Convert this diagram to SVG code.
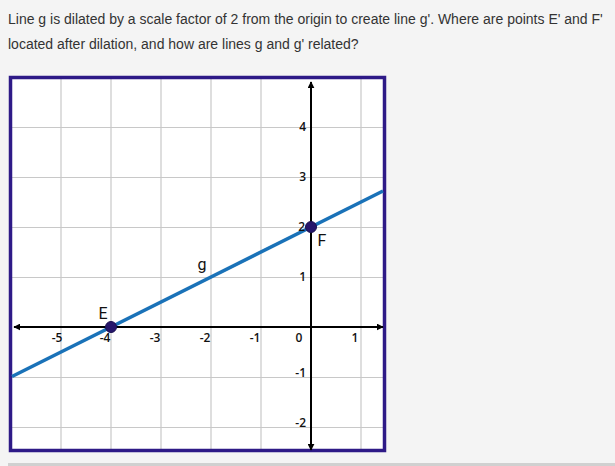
<svg xmlns="http://www.w3.org/2000/svg" width="615" height="466" viewBox="0 0 615 466">
<defs>
<style>
.q{font-family:"Liberation Sans",Arial,sans-serif;font-size:14px;fill:#333}
.grid line{stroke:#c8c8c8;stroke-width:1.2}
.axis{stroke:#000;stroke-width:2;fill:none}
.t{font-family:"Open Sans","Noto Sans",sans-serif;font-size:12px;fill:#111;font-weight:600}
.lbl{font-family:Roboto,"Open Sans",sans-serif;font-size:16px;fill:#111}
.pt{fill:#26166b;stroke:#1a1050;stroke-width:1}
</style>
<marker id="ah" viewBox="0 0 10 10" refX="9" refY="5" markerWidth="7" markerHeight="7" markerUnits="userSpaceOnUse" orient="auto">
<path d="M0,0 L10,5 L0,10 Z" fill="#000"/>
</marker>
</defs>
<rect width="615" height="466" fill="#f4f4f4"/>
<text class="q" x="8" y="24">Line g is dilated by a scale factor of 2 from the origin to create line g'. Where are points E' and F'</text>
<text class="q" x="8" y="49">located after dilation, and how are lines g and g' related?</text>
<rect x="8" y="463" width="607" height="3" fill="#d0d0d0"/>
<g id="plot">
<rect x="10.5" y="77.5" width="374" height="373" fill="#fff"/>
<g class="grid">
<line x1="61" y1="79" x2="61" y2="449"/>
<line x1="111" y1="79" x2="111" y2="449"/>
<line x1="161" y1="79" x2="161" y2="449"/>
<line x1="211" y1="79" x2="211" y2="449"/>
<line x1="261" y1="79" x2="261" y2="449"/>
<line x1="361" y1="79" x2="361" y2="449"/>
<line x1="12" y1="127.5" x2="383" y2="127.5"/>
<line x1="12" y1="177.5" x2="383" y2="177.5"/>
<line x1="12" y1="227.5" x2="383" y2="227.5"/>
<line x1="12" y1="277.5" x2="383" y2="277.5"/>
<line x1="12" y1="377.5" x2="383" y2="377.5"/>
<line x1="12" y1="427.5" x2="383" y2="427.5"/>
</g>
<rect x="10.5" y="77.5" width="374" height="373" fill="none" stroke="#2e1a87" stroke-width="3.5"/>
</g>
<g id="connectors">
<line class="axis" x1="311" y1="327" x2="311" y2="82" marker-end="url(#ah)"/>
<line class="axis" x1="311" y1="327" x2="311" y2="450" marker-end="url(#ah)"/>
<line class="axis" x1="311" y1="327" x2="14" y2="327" marker-end="url(#ah)"/>
<line class="axis" x1="311" y1="327" x2="383" y2="327" marker-end="url(#ah)"/>
<line id="line-g" x1="12" y1="376.5" x2="383" y2="191" stroke="#1a72b8" stroke-width="3.5"/>
</g>
<g id="ticks">
<text class="t" x="57" y="342" text-anchor="middle">-5</text>
<text class="t" x="105" y="342" text-anchor="middle">-4</text>
<text class="t" x="155" y="342" text-anchor="middle">-3</text>
<text class="t" x="205" y="342" text-anchor="middle">-2</text>
<text class="t" x="255" y="342" text-anchor="middle">-1</text>
<text class="t" x="299" y="342" text-anchor="middle">0</text>
<text class="t" x="355" y="342" text-anchor="middle">1</text>
<text class="t" x="306" y="131" text-anchor="end">4</text>
<text class="t" x="306" y="181" text-anchor="end">3</text>
<text class="t" x="305" y="231" text-anchor="end">2</text>
<text class="t" x="306" y="281" text-anchor="end">1</text>
<text class="t" x="306" y="377" text-anchor="end">-1</text>
<text class="t" x="306" y="427" text-anchor="end">-2</text>
</g>
<g id="E">
<circle class="pt" cx="111" cy="327" r="5.5"/>
<text class="lbl" x="103" y="319" text-anchor="middle">E</text>
</g>
<g id="F">
<circle class="pt" cx="311" cy="227" r="5.5"/>
<text class="lbl" x="322" y="246" text-anchor="middle">F</text>
</g>
<g id="g-label">
<text class="lbl" x="202" y="270" text-anchor="middle">g</text>
</g>
</svg>
